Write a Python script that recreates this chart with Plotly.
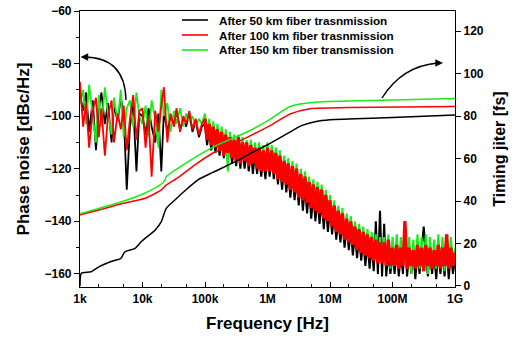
import plotly.graph_objects as go

# ---------------- data ----------------
FREQ_HZ = [
    1000, 1120, 1250, 1400, 1600, 1800, 2000, 2200, 2500, 2800,
    3200, 3500, 4000, 4500, 5000, 5600, 6300, 7100, 8000, 8900,
    10000, 11200, 12500, 14000, 16000, 18000, 20000, 22000, 25000, 28000,
    32000, 35000, 40000, 45000, 50000, 56000, 63000, 71000, 80000, 89000,
    1.00e5, 1.08e5, 1.17e5, 1.26e5, 1.36e5, 1.47e5, 1.58e5, 1.71e5, 1.85e5, 2.00e5,
    2.15e5, 2.32e5, 2.51e5, 2.71e5, 2.92e5, 3.16e5, 3.41e5, 3.68e5, 3.98e5, 4.30e5,
    4.64e5, 5.01e5, 5.41e5, 5.84e5, 6.31e5, 6.81e5, 7.36e5, 7.94e5, 8.58e5, 9.26e5,
    1.00e6, 1.08e6, 1.17e6, 1.26e6, 1.36e6, 1.47e6, 1.58e6, 1.71e6, 1.85e6, 2.00e6,
    2.15e6, 2.32e6, 2.51e6, 2.71e6, 2.92e6, 3.16e6, 3.41e6, 3.68e6, 3.98e6, 4.30e6,
    4.64e6, 5.01e6, 5.41e6, 5.84e6, 6.31e6, 6.81e6, 7.36e6, 7.94e6, 8.58e6, 9.26e6,
    1.00e7, 1.08e7, 1.17e7, 1.26e7, 1.36e7, 1.47e7, 1.58e7, 1.71e7, 1.85e7, 2.00e7,
    2.15e7, 2.32e7, 2.51e7, 2.71e7, 2.92e7, 3.16e7, 3.41e7, 3.68e7, 3.98e7, 4.30e7,
    4.64e7, 5.01e7, 5.41e7, 5.84e7, 6.31e7, 6.81e7, 7.36e7, 7.94e7, 8.58e7, 9.26e7,
    1.00e8, 1.08e8, 1.17e8, 1.26e8, 1.36e8, 1.47e8, 1.58e8, 1.71e8, 1.85e8, 2.00e8,
    2.15e8, 2.32e8, 2.51e8, 2.71e8, 2.92e8, 3.16e8, 3.41e8, 3.68e8, 3.98e8, 4.30e8,
    4.64e8, 5.01e8, 5.41e8, 5.84e8, 6.31e8, 6.81e8, 7.36e8, 7.94e8, 8.58e8, 9.26e8,
    1.00e9,
]

PN_50 = [
    -92, -98, -91, -106, -94, -113, -97, -91, -103, -95,
    -110, -96, -102, -93, -99, -128, -104, -96, -121, -99,
    -100, -107, -97, -104, -110, -99, -121, -98, -106, -100,
    -103, -98, -105, -101, -104, -99, -106, -102, -108, -104,
    -103, -111, -105, -113, -106, -114, -107, -115, -108, -116,
    -109, -117, -110, -118, -111, -119, -111, -120, -112, -120,
    -113, -121, -113, -122, -114, -122, -115, -123, -116, -124,
    -114, -123, -115, -124, -117, -126, -118, -128, -119, -129,
    -121, -131, -122, -132, -124, -134, -125, -136, -127, -137,
    -128, -139, -130, -140, -131, -141, -132, -143, -134, -144,
    -135, -145, -137, -147, -139, -148, -140, -150, -142, -151,
    -143, -153, -145, -154, -146, -155, -147, -157, -148, -158,
    -149, -159, -140, -160, -136, -161, -141, -161, -152, -160,
    -152, -160, -151, -161, -152, -160, -140, -161, -152, -160,
    -151, -162, -152, -160, -151, -142, -152, -161, -151, -160,
    -152, -162, -151, -160, -152, -161, -150, -162, -151, -160,
    -155,
]

PN_100 = [
    -87, -104, -95, -112, -98, -93, -108, -97, -115, -100,
    -94, -110, -99, -105, -96, -113, -101, -92, -109, -98,
    -97, -112, -100, -123, -98, -106, -96, -89, -110, -99,
    -104, -97, -106, -100, -103, -98, -105, -101, -107, -103,
    -101, -109, -103, -111, -104, -112, -105, -113, -106, -115,
    -107, -114, -108, -116, -109, -117, -108, -118, -110, -117,
    -110, -119, -111, -118, -112, -120, -112, -121, -113, -121,
    -112, -121, -113, -122, -114, -124, -115, -125, -117, -126,
    -118, -128, -119, -129, -120, -131, -122, -132, -123, -133,
    -125, -135, -126, -136, -127, -137, -128, -139, -130, -140,
    -132, -142, -134, -144, -136, -145, -137, -147, -139, -148,
    -140, -149, -142, -151, -143, -152, -144, -153, -145, -154,
    -146, -155, -147, -156, -148, -156, -148, -157, -147, -157,
    -150, -157, -149, -158, -150, -157, -140, -158, -150, -157,
    -151, -158, -149, -157, -150, -159, -149, -157, -150, -158,
    -151, -157, -149, -158, -150, -157, -145, -158, -150, -157,
    -152,
]

PN_150 = [
    -95, -90, -103, -88, -100, -110, -92, -104, -89, -99,
    -107, -93, -102, -90, -108, -97, -94, -104, -91, -100,
    -103, -96, -108, -94, -101, -112, -90, -100, -95, -106,
    -98, -103, -97, -104, -99, -102, -100, -104, -101, -103,
    -99, -107, -101, -109, -102, -111, -103, -112, -104, -113,
    -105, -121, -106, -114, -107, -115, -107, -116, -108, -116,
    -109, -117, -109, -118, -110, -118, -110, -119, -111, -120,
    -110, -119, -111, -120, -112, -122, -113, -123, -115, -124,
    -116, -126, -117, -127, -118, -129, -120, -130, -121, -131,
    -123, -133, -124, -134, -125, -135, -126, -137, -128, -138,
    -130, -140, -132, -142, -134, -143, -135, -145, -137, -146,
    -138, -147, -140, -149, -141, -150, -142, -151, -143, -152,
    -144, -153, -145, -154, -146, -155, -146, -156, -145, -158,
    -146, -155, -145, -157, -146, -156, -145, -158, -146, -160,
    -147, -157, -145, -158, -146, -156, -145, -160, -146, -157,
    -147, -158, -145, -157, -146, -159, -145, -157, -146, -155,
    -150,
]

JIT_FREQ_50 = [1000, 1050, 1500, 2000, 3000, 4500, 5200, 7600, 9500, 16000,
               20000, 24000, 33000, 53000, 77000, 134000, 330000, 500000,
               1e6, 2e6, 3.5e6, 6e6, 1e7, 1e8, 1e9]
JIT_50 = [0, 6, 6.7, 9, 11.3, 13, 16, 17.7, 20.8, 26.4,
          30.3, 36.5, 40.5, 46, 50, 53.5, 59, 62,
          66.5, 71.5, 75.5, 77.5, 78.3, 79.3, 80.5]

JIT_FREQ_100 = [1000, 4500, 11000, 20000, 24000, 37000, 69000, 134000,
                470000, 1.1e6, 2.3e6, 4.8e6, 2e7, 1e9]
JIT_100 = [33.4, 38.6, 41.3, 45.2, 47.5, 51, 57, 62.6,
           70, 75.5, 81, 83.5, 84, 84.5]

JIT_FREQ_150 = [1000, 4500, 11000, 20000, 23000, 24000, 53000, 134000,
                470000, 1.1e6, 2.3e6, 6.2e6, 7e7, 1e9]
JIT_150 = [34, 39.5, 43.8, 48, 50, 51.5, 58.4, 65.4,
           72.5, 78.5, 84.5, 86.6, 87.5, 88.3]

NAMES = ["After 50 km fiber trasnmission",
         "After 100 km fiber trasnmission",
         "After 150 km fiber transmission"]

X_TICKVALS = [1e3, 1e4, 1e5, 1e6, 1e7, 1e8, 1e9]
X_TICKTEXT = ["1k", "10k", "100k", "1M", "10M", "100M", "1G"]

assert len(FREQ_HZ) == len(PN_50) == len(PN_100) == len(PN_150)

BLACK, RED, GREEN = "#000000", "#ff0000", "#16ee16"
COLORS = [BLACK, RED, GREEN]
FONT = "Liberation Sans, Arial, sans-serif"

W, H = 527, 343
ML, MR, MT, MB = 80, 72, 11, 56
PW, PH = W - ML - MR, H - MT - MB

SPLIT = FREQ_HZ.index(1.00e5)   # sparse part / dense part of the noise traces

fig = go.Figure()

# phase-noise traces (draw order: black, green, red on top)
for vals, col, wd in ((PN_50, BLACK, 2.0), (PN_150, GREEN, 2.0), (PN_100, RED, 3.3)):
    fig.add_trace(go.Scatter(x=FREQ_HZ[:SPLIT + 1], y=vals[:SPLIT + 1], mode="lines",
                             line=dict(color=col, width=1.8)))
    fig.add_trace(go.Scatter(x=FREQ_HZ[SPLIT:], y=vals[SPLIT:], mode="lines",
                             line=dict(color=col, width=wd)))

# timing-jitter traces
fig.add_trace(go.Scatter(x=JIT_FREQ_50, y=JIT_50, mode="lines", yaxis="y2",
                         line=dict(color=BLACK, width=1.5, shape="spline", smoothing=0.6)))
fig.add_trace(go.Scatter(x=JIT_FREQ_100, y=JIT_100, mode="lines", yaxis="y2",
                         line=dict(color=RED, width=1.5, shape="spline", smoothing=0.6)))
fig.add_trace(go.Scatter(x=JIT_FREQ_150, y=JIT_150, mode="lines", yaxis="y2",
                         line=dict(color=GREEN, width=1.5, shape="spline", smoothing=0.6)))

tickfont = dict(family=FONT, size=12, color="black", weight="bold")
titlefont = dict(family=FONT, size=17, color="black", weight="bold")

fig.update_layout(
    width=W, height=H,
    margin=dict(l=ML, r=MR, t=MT, b=MB, autoexpand=False),
    paper_bgcolor="white", plot_bgcolor="white",
    showlegend=False,
    xaxis=dict(type="log", range=[3, 9], tickvals=X_TICKVALS, ticktext=X_TICKTEXT,
               ticks="inside", ticklen=5, tickwidth=1, tickcolor="black",
               minor=dict(ticks="inside", ticklen=3, tickcolor="black", showgrid=False),
               showline=True, linecolor="black", linewidth=1.2, mirror=True,
               showgrid=False, zeroline=False, tickfont=tickfont, automargin=False,
               title=dict(text="Frequency [Hz]", font=titlefont, standoff=12)),
    yaxis=dict(range=[-165, -60], tickvals=[-60, -80, -100, -120, -140, -160],
               ticks="outside", ticklen=5, tickcolor="black",
               minor=dict(ticks="outside", ticklen=3, tickcolor="black",
                          tickvals=[-70, -90, -110, -130, -150], showgrid=False),
               showline=True, linecolor="black", linewidth=1.2, automargin=False,
               showgrid=False, zeroline=False, tickfont=tickfont,
               ticklabeloverflow="allow",
               title=dict(text="Phase noise [dBc/Hz]", font=titlefont, standoff=10)),
    yaxis2=dict(range=[-0.5, 129.5], overlaying="y", side="right",
                tickvals=[0, 20, 40, 60, 80, 100, 120],
                ticks="outside", ticklen=5, tickcolor="black",
                showline=True, linecolor="black", linewidth=1.2, automargin=False,
                showgrid=False, zeroline=False, tickfont=tickfont,
                title=dict(text="Timing jiter [fs]",
                           font=dict(family=FONT, size=16, color="black", weight="bold"),
                           standoff=10)),
)

# helpers: figure pixel -> paper fraction
def px(xp):
    return (xp - ML) / PW

def py(yp):
    return (H - MB - yp) / PH

# legend drawn as line samples + text
for i, (name, col) in enumerate(zip(NAMES, COLORS)):
    yy = 20 + 15 * i
    fig.add_shape(type="line", xref="paper", yref="paper",
                  x0=px(182), x1=px(208), y0=py(yy), y1=py(yy),
                  line=dict(color=col, width=1.6))
    fig.add_annotation(xref="paper", yref="paper", x=px(217), y=py(yy),
                       xanchor="left", yanchor="middle", showarrow=False,
                       text=name,
                       font=dict(family=FONT, size=11.7, color="black", weight="bold"))

# curved arrows
fig.add_shape(type="path", xref="paper", yref="paper",
              path=f"M {px(126)},{py(100)} Q {px(125)},{py(57)} {px(84)},{py(57)}",
              line=dict(color="black", width=1.4))
fig.add_annotation(xref="paper", yref="paper", x=px(80.5), y=py(57), ax=9, ay=0,
                   text="", showarrow=True, arrowhead=2, arrowsize=1.1,
                   arrowwidth=1.4, arrowcolor="black")
fig.add_shape(type="path", xref="paper", yref="paper",
              path=f"M {px(382)},{py(98)} Q {px(402)},{py(66)} {px(438)},{py(63)}",
              line=dict(color="black", width=1.4))
fig.add_annotation(xref="paper", yref="paper", x=px(443), y=py(63), ax=-9, ay=0,
                   text="", showarrow=True, arrowhead=2, arrowsize=1.1,
                   arrowwidth=1.4, arrowcolor="black")

fig.write_html("out.html",
               config={"displayModeBar": False},
               post_script="document.body.style.margin='0';document.body.style.padding='0';")
